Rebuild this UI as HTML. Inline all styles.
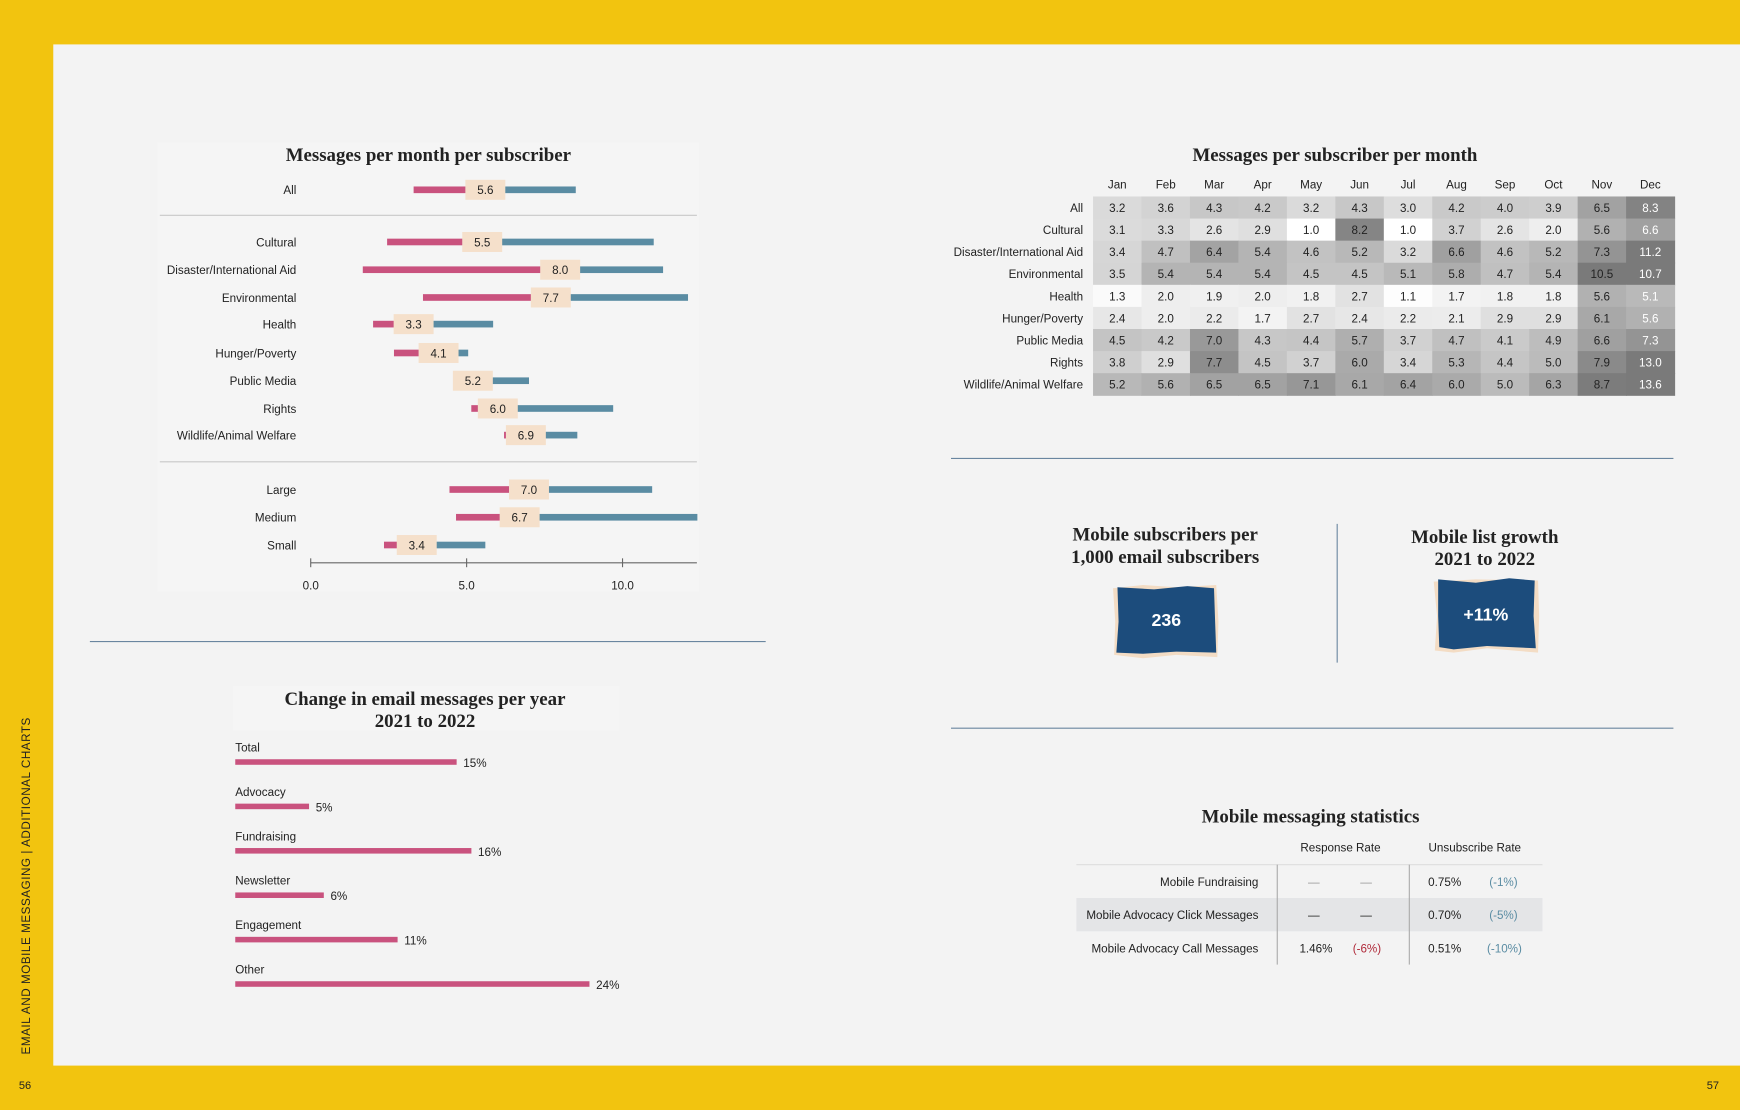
<!DOCTYPE html>
<html><head><meta charset="utf-8">
<style>
html,body{margin:0;padding:0;width:1740px;height:1110px;overflow:hidden;background:#f2c40f;}
svg{display:block;}
text{font-family:"Liberation Sans",sans-serif;}
.ser{font-family:"Liberation Serif",serif;font-weight:bold;}
</style></head>
<body>
<svg id="s" width="1740" height="1110" viewBox="0 0 1568 1000" preserveAspectRatio="none" xmlns="http://www.w3.org/2000/svg">
<rect x="0" y="0" width="1568" height="1000" fill="#f2c40f"/>
<rect x="48" y="40" width="1520" height="920" fill="#f3f3f3"/>
<text transform="translate(27,950) rotate(-90)" font-size="10.5" fill="#222" letter-spacing="0.5">EMAIL AND MOBILE MESSAGING  |  ADDITIONAL CHARTS</text>
<text x="17" y="981" font-size="10" fill="#222">56</text>
<text x="1538" y="981" font-size="10" fill="#222">57</text>

<g id="dumb">
<rect x="142" y="128" width="488" height="405" fill="#f5f5f5"/>
<text class="ser" x="386" y="145" font-size="17" text-anchor="middle" fill="#222">Messages per month per subscriber</text>
<line x1="144" y1="194" x2="628" y2="194" stroke="#c8c8c8"/>
<line x1="144" y1="416" x2="628" y2="416" stroke="#c8c8c8"/>
<line x1="280" y1="507" x2="628" y2="507" stroke="#666"/>
</g>

<g id="heat">
<text class="ser" x="1203" y="145" font-size="17" text-anchor="middle" fill="#222">Messages per subscriber per month</text>
</g>
<line x1="857" y1="413" x2="1508" y2="413" stroke="#6a86a0"/>
<line x1="857" y1="656" x2="1508" y2="656" stroke="#6a86a0"/>
<line x1="81" y1="578" x2="690" y2="578" stroke="#6a86a0"/>

<text class="ser" x="1050" y="487" font-size="17" text-anchor="middle" fill="#222">Mobile subscribers per</text>
<text class="ser" x="1050" y="507" font-size="17" text-anchor="middle" fill="#222">1,000 email subscribers</text>
<polygon points="1003,530 1030,527 1060,529 1096,527 1098,560 1097,592 1060,590 1030,593 1004,590 1005,560" fill="#f3dcc4"/>
<polygon points="1007,529 1040,531 1070,528 1094,530 1095,560 1096,588 1060,587 1030,589 1006,588 1008,560" fill="#1c4c7c"/>
<text x="1051" y="564" font-size="16" font-weight="bold" fill="#fff" text-anchor="middle">236</text>
<line x1="1205" y1="472" x2="1205" y2="597" stroke="#6a86a0"/>
<text class="ser" x="1338" y="489" font-size="17" text-anchor="middle" fill="#222">Mobile list growth</text>
<text class="ser" x="1338" y="509" font-size="17" text-anchor="middle" fill="#222">2021 to 2022</text>
<polygon points="1292,524 1330,522 1386,523 1387,555 1386,588 1340,584 1310,588 1293,586 1295,555" fill="#f3dcc4"/>
<polygon points="1296,522 1330,525 1360,521 1383,523 1382,555 1384,584 1340,582 1310,585 1297,583 1296,555" fill="#1c4c7c"/>
<text x="1339" y="559" font-size="16" font-weight="bold" fill="#fff" text-anchor="middle">+11%</text>

<g>
<text class="ser" x="1181" y="741" font-size="17" text-anchor="middle" fill="#222">Mobile messaging statistics</text>
<text x="1208" y="767" font-size="10.5" text-anchor="middle" fill="#222">Response Rate</text>
<text x="1329" y="767" font-size="10.5" text-anchor="middle" fill="#222">Unsubscribe Rate</text>
<line x1="970" y1="779" x2="1390" y2="779" stroke="#ddd"/>
<rect x="970" y="809" width="420" height="30" fill="#e4e5e7"/>
<line x1="1151" y1="779" x2="1151" y2="869" stroke="#aaa"/>
<line x1="1270" y1="779" x2="1270" y2="869" stroke="#aaa"/>
<g font-size="10.5" fill="#222">
<text x="1134" y="798" text-anchor="end">Mobile Fundraising</text>
<text x="1184" y="798" text-anchor="middle" fill="#999">—</text>
<text x="1231" y="798" text-anchor="middle" fill="#999">—</text>
<text x="1287" y="798">0.75%</text>
<text x="1342" y="798" fill="#5a8ca3">(-1%)</text>
<text x="1134" y="828" text-anchor="end">Mobile Advocacy Click Messages</text>
<text x="1184" y="828" text-anchor="middle">—</text>
<text x="1231" y="828" text-anchor="middle">—</text>
<text x="1287" y="828">0.70%</text>
<text x="1342" y="828" fill="#5a8ca3">(-5%)</text>
<text x="1134" y="858" text-anchor="end">Mobile Advocacy Call Messages</text>
<text x="1171" y="858">1.46%</text>
<text x="1219" y="858" fill="#b02a3a">(-6%)</text>
<text x="1287" y="858">0.51%</text>
<text x="1340" y="858" fill="#5a8ca3">(-10%)</text>
</g>
</g>

<g id="change">
<rect x="210" y="618" width="348" height="40" fill="#f5f5f5"/>
<text class="ser" x="383" y="635" font-size="17" text-anchor="middle" fill="#222">Change in email messages per year</text>
<text class="ser" x="383" y="655" font-size="17" text-anchor="middle" fill="#222">2021 to 2022</text>
</g>
</svg>
<script>
var NS='http://www.w3.org/2000/svg';
function mk(parent,tag,attrs,txt){var e=document.createElementNS(NS,tag);for(var k in attrs)e.setAttribute(k,attrs[k]);if(txt!==undefined)e.textContent=txt;parent.appendChild(e);return e;}

var dumbCategories=['All','Cultural','Disaster/International Aid','Environmental','Health','Hunger/Poverty','Public Media','Rights','Wildlife/Animal Welfare','Large','Medium','Small'];
var dumbLow=[3.3,2.45,1.67,3.6,2.0,2.67,5.2,5.15,6.2,4.45,4.66,2.35];
var dumbMedian=[5.6,5.5,8.0,7.7,3.3,4.1,5.2,6.0,6.9,7.0,6.7,3.4];
var dumbHigh=[8.5,11.0,11.3,12.1,5.85,5.05,7.0,9.7,8.55,10.95,12.4,5.6];
var dumbRowY=[171,218,243,268,292,318,343,368,392,441,466,491];
var dumbTicks=[0,5,10];

var months=['Jan','Feb','Mar','Apr','May','Jun','Jul','Aug','Sep','Oct','Nov','Dec'];
var heatRows=['All','Cultural','Disaster/International Aid','Environmental','Health','Hunger/Poverty','Public Media','Rights','Wildlife/Animal Welfare'];
var heatAll=[3.2,3.6,4.3,4.2,3.2,4.3,3.0,4.2,4.0,3.9,6.5,8.3];
var heatCultural=[3.1,3.3,2.6,2.9,1.0,8.2,1.0,3.7,2.6,2.0,5.6,6.6];
var heatDisaster=[3.4,4.7,6.4,5.4,4.6,5.2,3.2,6.6,4.6,5.2,7.3,11.2];
var heatEnvironmental=[3.5,5.4,5.4,5.4,4.5,4.5,5.1,5.8,4.7,5.4,10.5,10.7];
var heatHealth=[1.3,2.0,1.9,2.0,1.8,2.7,1.1,1.7,1.8,1.8,5.6,5.1];
var heatHunger=[2.4,2.0,2.2,1.7,2.7,2.4,2.2,2.1,2.9,2.9,6.1,5.6];
var heatPublicMedia=[4.5,4.2,7.0,4.3,4.4,5.7,3.7,4.7,4.1,4.9,6.6,7.3];
var heatRights=[3.8,2.9,7.7,4.5,3.7,6.0,3.4,5.3,4.4,5.0,7.9,13.0];
var heatWildlife=[5.2,5.6,6.5,6.5,7.1,6.1,6.4,6.0,5.0,6.3,8.7,13.6];
var heatValues=[heatAll,heatCultural,heatDisaster,heatEnvironmental,heatHealth,heatHunger,heatPublicMedia,heatRights,heatWildlife];

var changeCategories=['Total','Advocacy','Fundraising','Newsletter','Engagement','Other'];
var changeValues=[15,5,16,6,11,24];

(function(){
var g=document.getElementById('dumb');
function xs(v){return 280+v*28.1;}
dumbTicks.forEach(function(t){
  var tk=mk(g,'line',{x1:xs(t),y1:503,x2:xs(t),y2:511,stroke:'#666'});
  
  
  var tl=mk(g,'text',{x:xs(t),y:531,'font-size':10.5,'text-anchor':'middle',fill:'#222'},t.toFixed(1));
  
  
});
dumbCategories.forEach(function(c,i){
  var y=dumbRowY[i];
  var lb=mk(g,'text',{x:267,y:y+4,'font-size':10.5,'text-anchor':'end',fill:'#222'},c);
  
  
  var lo=mk(g,'rect',{x:xs(dumbLow[i]),y:y-3,width:Math.max(0,xs(dumbMedian[i])-xs(dumbLow[i])),height:6,fill:'#c9527e'});
  
  
  var hi=mk(g,'rect',{x:xs(dumbMedian[i]),y:y-3,width:Math.max(0,xs(dumbHigh[i])-xs(dumbMedian[i])),height:6,fill:'#5a8ca3'});
  
  
  var bx=mk(g,'rect',{x:xs(dumbMedian[i])-18,y:y-9,width:36,height:18,fill:'#f5e0cb'});
  
  
  var mv=mk(g,'text',{x:xs(dumbMedian[i]),y:y+4,'font-size':10.5,'text-anchor':'middle',fill:'#222'},dumbMedian[i].toFixed(1));
  
  
});
})();

(function(){
var g=document.getElementById('heat');
var x0=985,cw=43.67,y0=177,rh=19.9;
function shade(v){var c=Math.round(255-(v-1)*17);if(c<122)c=122;if(c>255)c=255;return 'rgb('+c+','+c+','+c+')';}
months.forEach(function(m,j){
  var t=mk(g,'text',{x:x0+cw*(j+0.5),y:170,'font-size':10.5,'text-anchor':'middle',fill:'#222'},m);
  
  
});
heatRows.forEach(function(r,i){
  var y=y0+rh*i;
  var t=mk(g,'text',{x:976,y:y+rh/2+4,'font-size':10.5,'text-anchor':'end',fill:'#222'},r);
  
  
  heatValues[i].forEach(function(v,j){
    var c=mk(g,'rect',{x:x0+cw*j,y:y,width:cw+0.5,height:rh+0.5,fill:shade(v)});
    
    
    var vt=mk(g,'text',{x:x0+cw*(j+0.5),y:y+rh/2+4,'font-size':10.5,'text-anchor':'middle',fill:(j==11?'#fff':'#222')},v.toFixed(1));
    
    
  });
});
})();

(function(){
var g=document.getElementById('change');
function ws(v){return v*13.3;}
changeCategories.forEach(function(c,i){
  var y=673+i*40;
  var l=mk(g,'text',{x:212,y:y+4,'font-size':10.5,fill:'#222'},c);
  
  
  var b=mk(g,'rect',{x:212,y:y+11,width:ws(changeValues[i]),height:5,fill:'#c9527e'});
  
  
  var v=mk(g,'text',{x:212+ws(changeValues[i])+6,y:y+18,'font-size':10.5,fill:'#222'},changeValues[i]+'%');
  
  
});
})();
</script>
</body></html>
